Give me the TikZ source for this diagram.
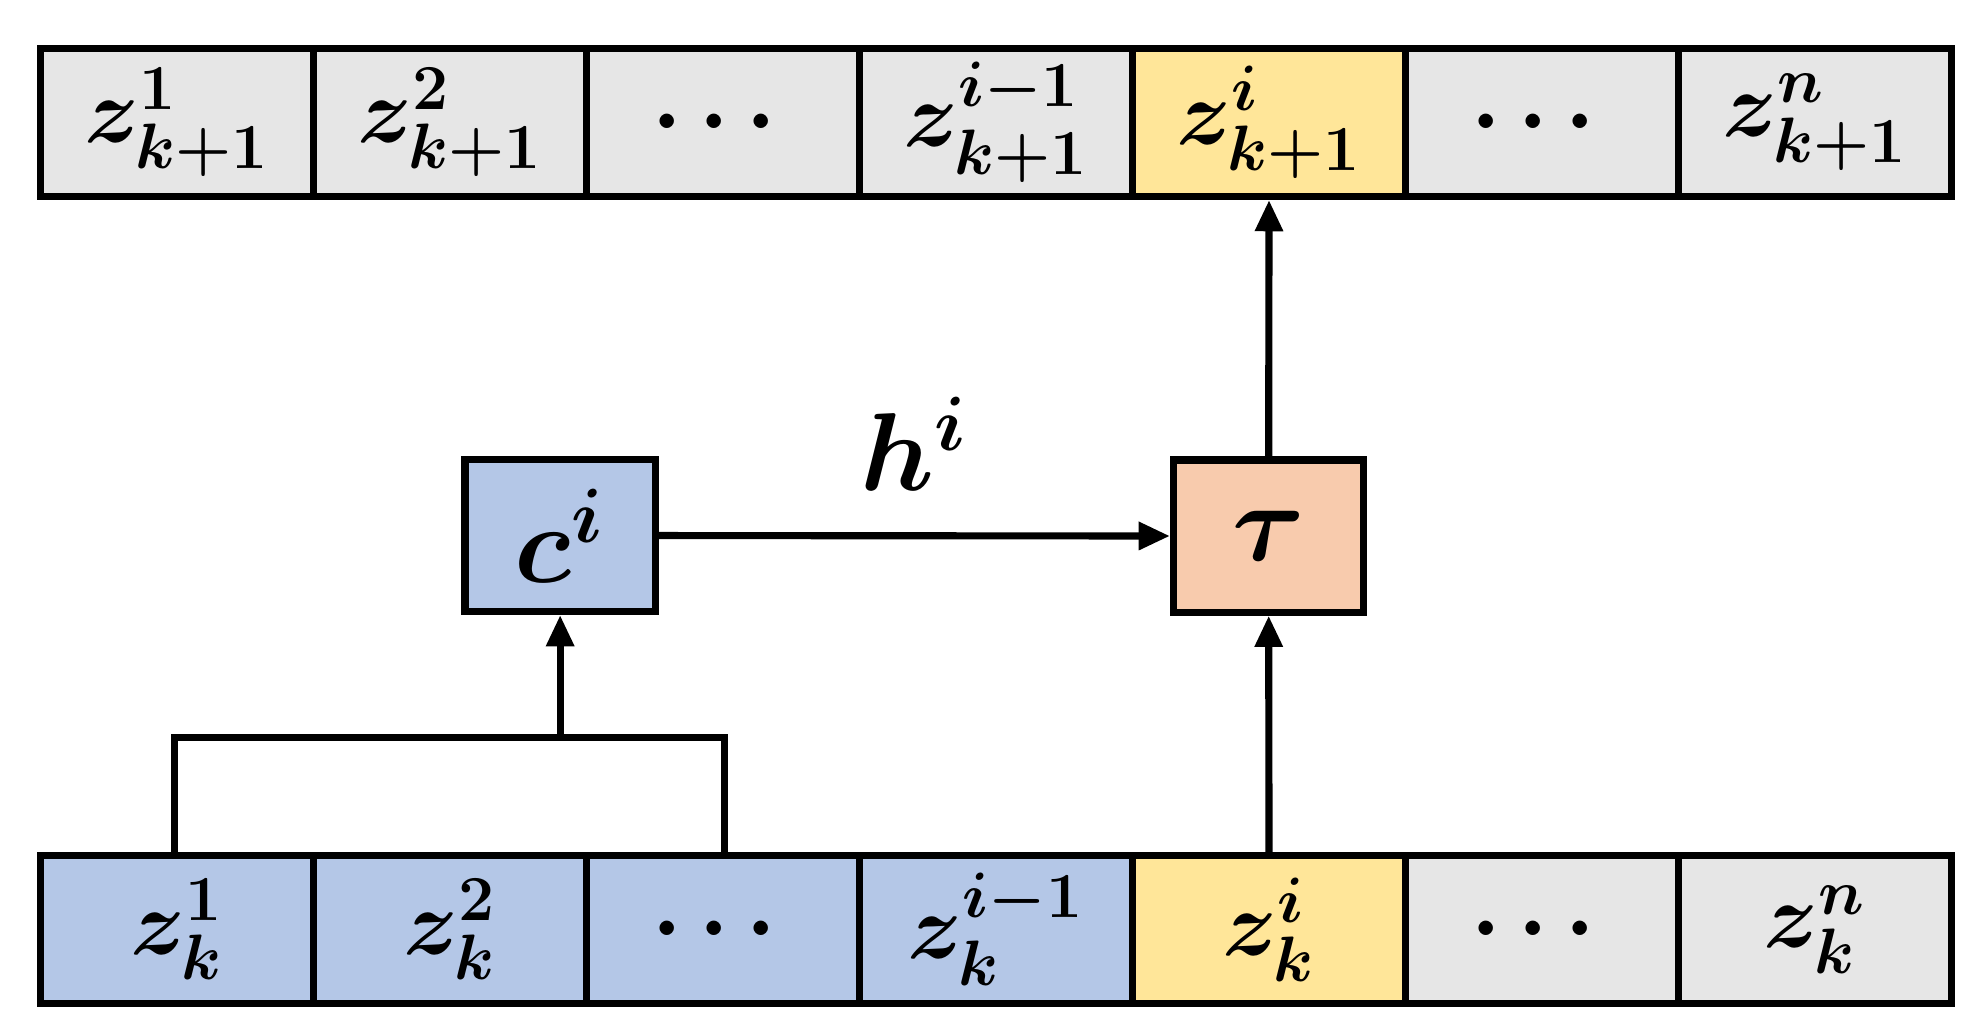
\documentclass[tikz,border=0pt]{standalone}
\usepackage{amsmath,bm}
\usetikzlibrary{arrows.meta}
\definecolor{cgray}{HTML}{E6E6E6}
\definecolor{cyel}{HTML}{FFE699}
\definecolor{cblue}{HTML}{B4C7E7}
\definecolor{corg}{HTML}{F8CBAD}
\begin{document}
\begin{tikzpicture}[x=0.01cm,y=-0.01cm,
  cell/.style={draw,line width=1.6pt,minimum width=2.154cm,minimum height=1.17cm,inner sep=0,font=\fontsize{22}{26}\selectfont},
  box/.style={draw,line width=1.6pt,minimum width=1.5cm,minimum height=1.2cm,inner sep=0,font=\fontsize{26}{30}\selectfont},
  arr/.style={line width=1.6pt,-{Triangle[length=7pt,width=6pt]}},
  ln/.style={line width=1.6pt}]
\useasboundingbox (0,0) rectangle (1560,817);
\def\w{215.43}
\foreach \i/\c/\t in {0/cgray/{$\bm{z^1_{k+1}}$},1/cgray/{$\bm{z^2_{k+1}}$},2/cgray/{$\bm{\cdots}$},3/cgray/{$\bm{z^{i-1}_{k+1}}$},4/cyel/{$\bm{z^i_{k+1}}$},5/cgray/{$\bm{\cdots}$},6/cgray/{$\bm{z^n_{k+1}}$}}
  \node[cell,fill=\c] (t\i) at ({32+\w*(\i+0.5)},96.5) {\t};
\foreach \i/\c/\t in {0/cblue/{$\bm{z^1_{k}}$},1/cblue/{$\bm{z^2_{k}}$},2/cblue/{$\bm{\cdots}$},3/cblue/{$\bm{z^{i-1}_{k}}$},4/cyel/{$\bm{z^i_{k}}$},5/cgray/{$\bm{\cdots}$},6/cgray/{$\bm{z^n_{k}}$}}
  \node[cell,fill=\c] (b\i) at ({32+\w*(\i+0.5)},733.5) {\t};
\node[box,fill=cblue] (c) at (442,422.5) {$\bm{c^i}$};
\node[box,fill=corg] (tau) at (1001,423) {$\bm{\tau}$};
\draw[arr] (c) -- node[above=6pt,font=\fontsize{26}{30}\selectfont]{$\bm{h^i}$} (tau);
\draw[arr] (tau) -- (t4);
\draw[arr] (b4) -- (tau);
\coordinate (j) at (442,582);
\draw[ln] (138,675) |- (572,582) -- (572,675);
\draw[arr] (j) -- (c);
\end{tikzpicture}
\end{document}
